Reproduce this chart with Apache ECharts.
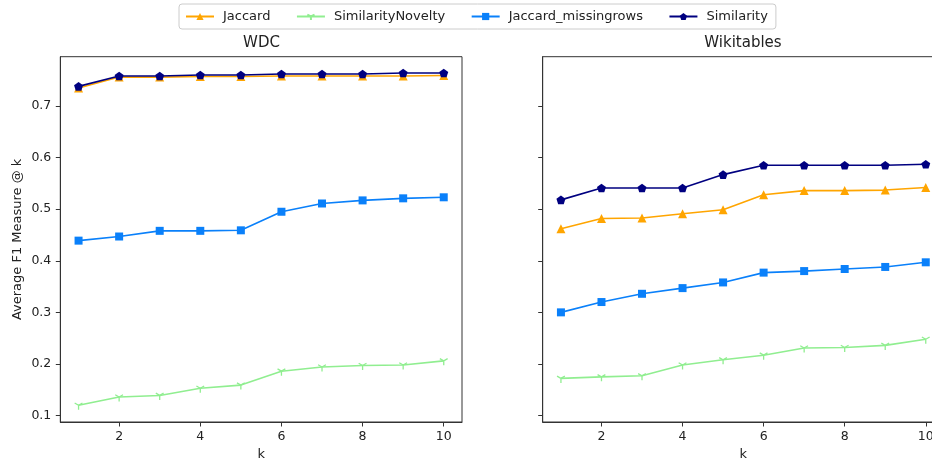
<!DOCTYPE html>
<html>
<head>
<meta charset="utf-8">
<script src="https://cdn.jsdelivr.net/npm/echarts@6/dist/echarts.min.js"></script>
<style>
html,body{margin:0;padding:0;background:#fff;overflow:hidden;}
#wrap{width:932px;height:466px;overflow:hidden;}
#chart{width:960px;height:466px;}
</style>
</head>
<body>
<div id="wrap"><div id="chart"></div></div>
<script>
// ---- data ----
var kValues = [1, 2, 3, 4, 5, 6, 7, 8, 9, 10];
var xTicks = [2, 4, 6, 8, 10];
var yTicks = [0.1, 0.2, 0.3, 0.4, 0.5, 0.6, 0.7];
var seriesNames = ['Jaccard', 'SimilarityNovelty', 'Jaccard_missingrows', 'Similarity'];
var panelTitles = ['WDC', 'Wikitables'];

var wdcJaccard = [0.735, 0.756, 0.756, 0.757, 0.757, 0.758, 0.758, 0.758, 0.758, 0.759];
var wdcNovelty = [0.120, 0.136, 0.139, 0.153, 0.159, 0.186, 0.194, 0.197, 0.198, 0.206];
var wdcMissing = [0.439, 0.447, 0.458, 0.458, 0.459, 0.495, 0.511, 0.517, 0.521, 0.523];
var wdcSimilarity = [0.738, 0.758, 0.758, 0.760, 0.760, 0.762, 0.762, 0.762, 0.764, 0.764];

var wikiJaccard = [0.462, 0.482, 0.483, 0.491, 0.499, 0.528, 0.536, 0.536, 0.537, 0.542];
var wikiNovelty = [0.172, 0.175, 0.177, 0.198, 0.208, 0.217, 0.231, 0.232, 0.236, 0.248];
var wikiMissing = [0.300, 0.320, 0.336, 0.347, 0.358, 0.377, 0.380, 0.384, 0.388, 0.397];
var wikiSimilarity = [0.518, 0.541, 0.541, 0.541, 0.567, 0.585, 0.585, 0.585, 0.585, 0.587];

// ---- styling ----
var FONT = 'DejaVu Sans';
var colors = ['#FFA500', '#90EE90', '#0A80FA', '#000080'];
var triDown = 'path://M5,5L5,10M5,5L0.67,2.5M5,5L9.33,2.5M5,0L5,0.01';
var pentagon = 'path://M10,0L19.51,6.91L15.88,18.09L4.12,18.09L0.49,6.91Z';
var symbols = ['triangle', triDown, 'rect', pentagon];
var symbolSizes = [9, 9, 8, 9];

function zip(vals) { return kValues.map(function (k, i) { return [k, vals[i]]; }); }

var panels = [
  [wdcJaccard, wdcNovelty, wdcMissing, wdcSimilarity],
  [wikiJaccard, wikiNovelty, wikiMissing, wikiSimilarity]
];

var series = [];
panels.forEach(function (p, pi) {
  p.forEach(function (vals, si) {
    var isTri = si === 1;
    series.push({
      name: seriesNames[si],
      type: 'line',
      xAxisIndex: pi,
      yAxisIndex: pi,
      data: zip(vals),
      symbol: symbols[si],
      symbolSize: symbolSizes[si],
      symbolKeepAspect: true,
      showAllSymbol: true,
      lineStyle: { color: colors[si], width: 1.6 },
      itemStyle: {
        color: colors[si],
        borderColor: colors[si],
        borderWidth: isTri ? 1.3 : 0
      },
      emphasis: { disabled: true },
      z: 2 + si
    });
  });
});

function xAxis(gi) {
  return {
    type: 'value', gridIndex: gi, min: 0.55, max: 10.45,
    name: 'k', nameLocation: 'middle', nameGap: 26,
    nameTextStyle: { fontFamily: FONT, fontSize: 13, color: '#222' },
    axisLine: { show: true, onZero: false, lineStyle: { color: '#333', width: 1 } },
    axisTick: { show: true, inside: false, length: 4.5, customValues: xTicks, lineStyle: { color: '#333', width: 1 } },
    axisLabel: { show: true, margin: 8, customValues: xTicks, fontFamily: FONT, fontSize: 12.5, color: '#222' },
    splitLine: { show: false }
  };
}
function yAxis(gi, labels) {
  return {
    type: 'value', gridIndex: gi, min: 0.0875, max: 0.7955,
    name: labels ? 'Average F1 Measure @ k' : '',
    nameLocation: 'middle', nameGap: 36,
    nameTextStyle: { fontFamily: FONT, fontSize: 13, color: '#222' },
    axisLine: { show: true, onZero: false, lineStyle: { color: '#333', width: 1 } },
    axisTick: { show: true, inside: false, length: 4.5, customValues: yTicks, lineStyle: { color: '#333', width: 1 } },
    axisLabel: { show: labels, margin: 9, customValues: yTicks, fontFamily: FONT, fontSize: 12.5, color: '#222',
      formatter: function (v) { return v.toFixed(1); } },
    splitLine: { show: false }
  };
}

var option = {
  animation: false,
  backgroundColor: '#fff',
  title: [
    { text: panelTitles[0], left: 261.5, top: 36, textAlign: 'center', padding: 0,
      textStyle: { fontFamily: FONT, fontSize: 15, fontWeight: 'normal', color: '#222' } },
    { text: panelTitles[1], left: 743, top: 36, textAlign: 'center', padding: 0,
      textStyle: { fontFamily: FONT, fontSize: 15, fontWeight: 'normal', color: '#222' } }
  ],
  legend: {
    data: seriesNames,
    left: 179, top: 4,
    padding: [6, 8, 6, 6],
    itemGap: 25.5,
    itemWidth: 28,
    itemHeight: 9,
    borderColor: '#cccccc', borderWidth: 1, borderRadius: 3,
    textStyle: { fontFamily: FONT, fontSize: 13, color: '#222', padding: [0, 0, 0, 4] }
  },
  grid: [
    { left: 60.3, top: 56.7, width: 401.7, height: 366.6, show: true, borderColor: '#333', borderWidth: 1, backgroundColor: 'transparent' },
    { left: 542.7, top: 56.7, width: 401.3, height: 366.6, show: true, borderColor: '#333', borderWidth: 1, backgroundColor: 'transparent' }
  ],
  xAxis: [xAxis(0), xAxis(1)],
  yAxis: [yAxis(0, true), yAxis(1, false)],
  series: series
};

var chart = echarts.init(document.getElementById('chart'), null, { renderer: 'canvas' });
chart.setOption(option);
</script>
</body>
</html>
